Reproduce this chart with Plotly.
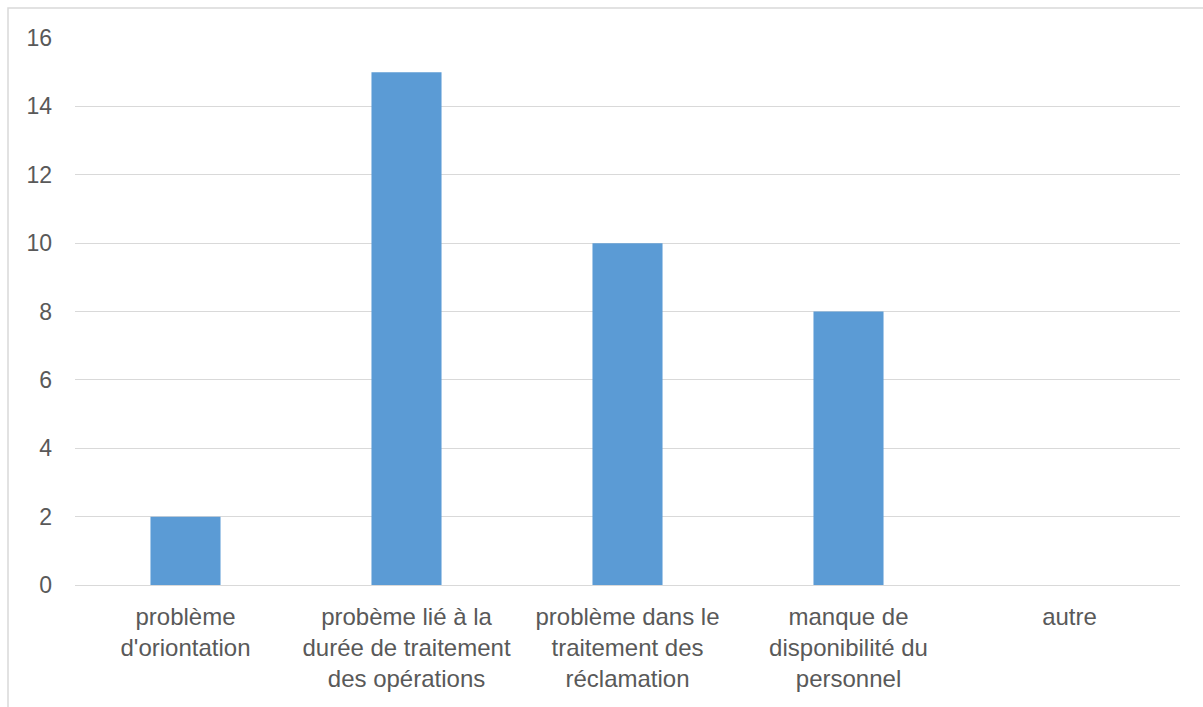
import plotly.graph_objects as go

categories = [
    "problème<br>d'oriontation",
    "probème lié à la<br>durée de traitement<br>des opérations",
    "problème dans le<br>traitement des<br>réclamation",
    "manque de<br>disponibilité du<br>personnel",
    "autre",
]
values = [2, 15, 10, 8, 0]
y_ticks = [0, 2, 4, 6, 8, 10, 12, 14, 16]

TEXT = "#595959"
GRID = "#D9D9D9"
FONT = "Liberation Sans, Arial, sans-serif"

fig = go.Figure(
    go.Bar(
        x=categories,
        y=values,
        marker=dict(color="#5B9BD5", line=dict(width=0)),
        width=0.317,
    )
)

fig.update_layout(
    width=1203,
    height=707,
    margin=dict(l=75, r=23, t=38, b=122),
    paper_bgcolor="white",
    plot_bgcolor="white",
    showlegend=False,
    font=dict(family=FONT, color=TEXT, size=24),
    shapes=[
        dict(
            type="rect",
            xref="paper",
            yref="paper",
            x0=-67 / 1105,
            x1=1.2,
            y0=-0.5,
            y1=1 + 30 / 547,
            line=dict(color="#D9D9D9", width=1.5),
            fillcolor="rgba(0,0,0,0)",
            layer="below",
        )
    ],
)

fig.update_xaxes(
    showgrid=False,
    showline=True,
    linecolor=GRID,
    linewidth=1,
    ticks="",
    tickfont=dict(size=24, color=TEXT),
    ticklabelstandoff=10,
)
fig.update_yaxes(
    range=[0, 16],
    tickvals=y_ticks,
    showgrid=True,
    gridcolor=GRID,
    gridwidth=1,
    zeroline=False,
    showline=False,
    ticks="",
    tickfont=dict(size=23, color=TEXT),
    ticklabelstandoff=22,
)

fig.write_html("out.html")
